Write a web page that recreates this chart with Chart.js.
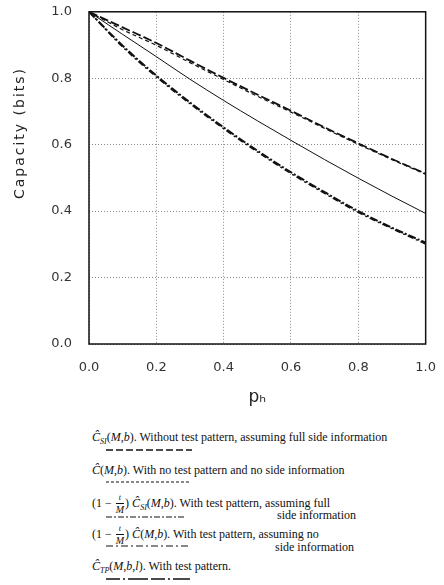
<!DOCTYPE html>
<html>
<head>
<meta charset="utf-8">
<script src="https://cdn.jsdelivr.net/npm/chart.js@4.4.1/dist/chart.umd.min.js"></script>
<style>
body { margin: 0; background: #fff; }
#wrap { position: relative; width: 444px; height: 585px; overflow: hidden; }
#graph { position: absolute; left: 0; top: -13px; }
.key { position: absolute; font-family: 'Liberation Serif', serif; font-size: 12px; line-height: 14px; color: #111; white-space: nowrap; }
.key sub { font-size: 8px; vertical-align: -3px; font-style: italic; }
.frac { display: inline-flex; flex-direction: column; align-items: center; vertical-align: middle; font-style: italic; font-size: 10px; line-height: 10px; margin: 0 1px; }
.frac .num { font-size: 8px; line-height: 8px; border-bottom: 1px solid #111; padding: 0 3px 1px; }
.frac .den { padding-top: 1px; }
.sample { position: absolute; }
</style>
</head>
<body>
<div id="wrap">
  <canvas id="graph" width="452" height="433"></canvas>

  <div class="key" style="left:92px; top:430px;"><i>Ĉ</i><sub>SI</sub>(<i>M</i>,<i>b</i>). Without test pattern, assuming full side information</div>
  <svg class="sample" style="left:106px; top:448px;" width="86" height="4"><line x1="0" y1="2" x2="86" y2="2" stroke="#111" stroke-width="1.3" stroke-dasharray="7,3"/></svg>

  <div class="key" style="left:92px; top:463px;"><i>Ĉ</i>(<i>M</i>,<i>b</i>). With no test pattern and no side information</div>
  <svg class="sample" style="left:106px; top:480px;" width="84" height="4"><line x1="0" y1="2" x2="84" y2="2" stroke="#111" stroke-width="1" stroke-dasharray="3,2"/></svg>

  <div class="key" style="left:92px; top:494px;">(1 − <span class="frac"><span class="num">t</span><span class="den">M</span></span>) <i>Ĉ</i><sub>SI</sub>(<i>M</i>,<i>b</i>). With test pattern, assuming full</div>
  <div class="key" style="left:277px; top:508px;">side information</div>
  <svg class="sample" style="left:106px; top:515px;" width="78" height="4"><line x1="0" y1="2" x2="78" y2="2" stroke="#111" stroke-width="1" stroke-dasharray="6,2,2,2"/></svg>

  <div class="key" style="left:92px; top:525px;">(1 − <span class="frac"><span class="num">t</span><span class="den">M</span></span>) <i>Ĉ</i>(<i>M</i>,<i>b</i>). With test pattern, assuming no</div>
  <div class="key" style="left:275px; top:540px;">side information</div>
  <svg class="sample" style="left:106px; top:544px;" width="84" height="4"><line x1="0" y1="2" x2="84" y2="2" stroke="#111" stroke-width="1.2" stroke-dasharray="7,3,2,3"/></svg>

  <div class="key" style="left:92px; top:559px;"><i>Ĉ</i><sub>TP</sub>(<i>M</i>,<i>b</i>,<i>l</i>). With test pattern.</div>
  <svg class="sample" style="left:106px; top:577px;" width="84" height="4"><line x1="0" y1="2" x2="84" y2="2" stroke="#111" stroke-width="1.3" stroke-dasharray="14,3,2,3,20,3"/></svg>
</div>

<script>
// Values (p_h from 0 to 1 in steps of 0.1)
const pH = [0, 0.1, 0.2, 0.3, 0.4, 0.5, 0.6, 0.7, 0.8, 0.9, 1.0];

// C_SI(M,b): no test pattern, full side information
const capSI = [1.0, 0.953, 0.906, 0.853, 0.801, 0.751, 0.702, 0.652, 0.604, 0.557, 0.513];
// C(M,b): no test pattern, no side information
const capNoSide = [1.0, 0.946, 0.899, 0.847, 0.796, 0.746, 0.698, 0.649, 0.601, 0.555, 0.511];
// C_TP(M,b,l): with test pattern
const capTP = [1.0, 0.932, 0.865, 0.797, 0.733, 0.672, 0.613, 0.555, 0.499, 0.445, 0.393];
// (1 - t/M) C_SI(M,b)
const capTestSI = [1.0, 0.898, 0.808, 0.727, 0.652, 0.582, 0.517, 0.457, 0.400, 0.350, 0.305];
// (1 - t/M) C(M,b)
const capTestNoSide = [1.0, 0.894, 0.804, 0.723, 0.648, 0.578, 0.513, 0.453, 0.396, 0.347, 0.301];

const axisTicks = [0, 0.2, 0.4, 0.6, 0.8, 1.0];
const yTitle = 'Capacity (bits)';

// Helper to pair p_h with a capacity series
function toPoints(values) {

    return pH.map((x, i) => ({ x: x, y: values[i] }));
}

function makeLine(label, values, dash, width) {

    return {
        label: label,
        data: toPoints(values),
        borderColor: '#111',
        borderWidth: width,
        borderDash: dash,
        pointRadius: 0,
        fill: false,
        cubicInterpolationMode: 'monotone'
    };
}

// Draws the black box round the plot area
const frameBox = {
    id: 'frameBox',
    afterDraw(chart) {

        const { ctx, chartArea } = chart;
        ctx.save();
        ctx.strokeStyle = '#111';
        ctx.lineWidth = 1.5;
        ctx.strokeRect(chartArea.left, chartArea.top, chartArea.right - chartArea.left, chartArea.bottom - chartArea.top);
        ctx.restore();
    }
};

// Spaced-out vertical axis title, sitting a bit above the middle like the original
const sideTitle = {
    id: 'sideTitle',
    afterDraw(chart) {

        const ctx = chart.ctx;
        ctx.save();
        ctx.translate(20, 146);
        ctx.rotate(-Math.PI / 2);
        ctx.font = "14px 'DejaVu Sans', sans-serif";
        ctx.letterSpacing = '2px';
        ctx.fillStyle = '#222';
        ctx.textAlign = 'center';
        ctx.textBaseline = 'middle';
        ctx.fillText(yTitle, 0, 0);
        ctx.restore();
    }
};

const tickFont = { family: "'DejaVu Sans', sans-serif", size: 13 };

const chart = new Chart(document.getElementById('graph').getContext('2d'), {

    type: 'line',
    data: {
        datasets: [
            makeLine('C_SI(M,b)', capSI, [9, 3], 1.8),
            makeLine('C(M,b)', capNoSide, [4, 3], 1.2),
            makeLine('C_TP(M,b,l)', capTP, [], 1),
            makeLine('(1-t/M) C_SI(M,b)', capTestSI, [8, 2, 2, 2], 2),
            makeLine('(1-t/M) C(M,b)', capTestNoSide, [6, 3, 2, 3], 1.4)
        ]
    },
    options: {
        responsive: false,
        animation: false,
        layout: { padding: { top: 0, right: 10, bottom: 0, left: 0 } },
        plugins: {
            legend: { display: false },
            tooltip: { enabled: false }
        },
        scales: {
            x: {
                type: 'linear',
                min: 0,
                max: 1,
                afterFit: (scale) => { scale.height = 76; },
                afterBuildTicks: (scale) => { scale.ticks = axisTicks.map(v => ({ value: v })); },
                ticks: {
                    callback: (v) => v.toFixed(1),
                    font: tickFont,
                    color: '#333',
                    padding: 16,
                    maxRotation: 0
                },
                grid: { color: '#8a8a8a', lineWidth: 1, drawTicks: false },
                border: { display: false, dash: [1, 2] },
                title: {
                    display: true,
                    text: 'pₕ',
                    font: { family: "'DejaVu Sans', sans-serif", size: 17 },
                    color: '#222',
                    padding: { top: 0, bottom: 12 }
                }
            },
            y: {
                min: 0,
                max: 1,
                afterFit: (scale) => { scale.width = 89; },
                afterBuildTicks: (scale) => { scale.ticks = axisTicks.map(v => ({ value: v })); },
                ticks: {
                    callback: (v) => v.toFixed(1),
                    font: tickFont,
                    color: '#333',
                    padding: 17
                },
                grid: { color: '#8a8a8a', lineWidth: 1, drawTicks: false },
                border: { display: false, dash: [1, 2] },
                title: { display: false }
            }
        }
    },
    plugins: [frameBox, sideTitle]
});
</script>
</body>
</html>
